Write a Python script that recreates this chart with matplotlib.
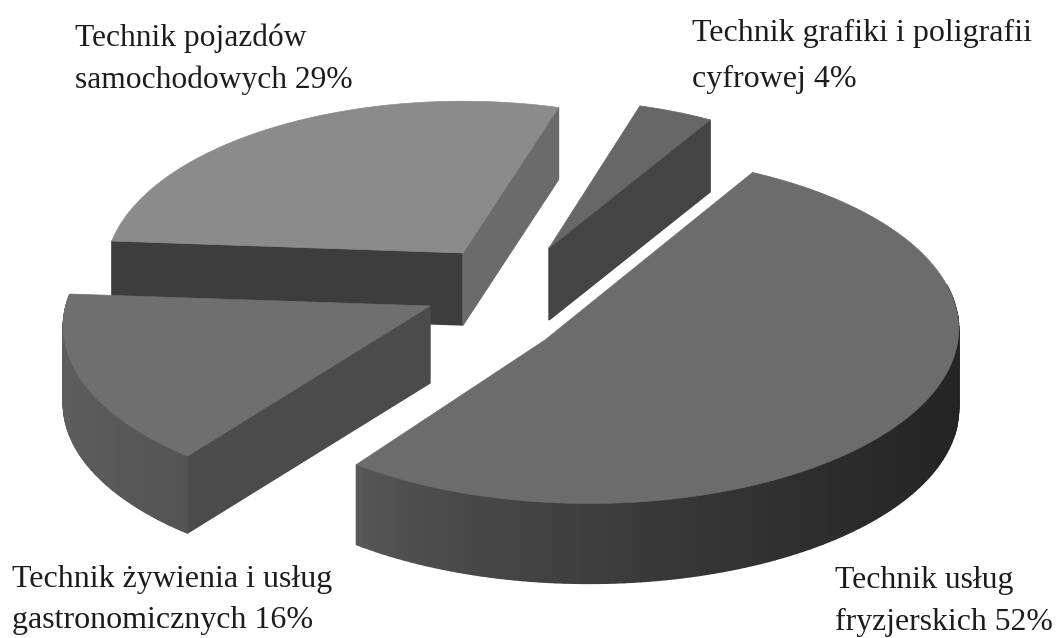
import numpy as np
import matplotlib
matplotlib.use('Agg')
from matplotlib import pyplot as plt

# udzialy zawodow, kolejnosc zgodnie z ruchem wskazowek od gory
labels = ["Technik usług\nfryzjerskich 52%",
          "Technik żywienia i usług\ngastronomicznych 16%",
          "Technik pojazdów\nsamochodowych 29%",
          "Technik grafiki i poligrafii\ncyfrowej 4%"]
shares = [52, 16, 29, 4]

# uklad w pikselach obrazka
apex_x = [589, 430, 463, 549]
apex_y = [308, 306, 253, 248]
notch_x = [545, 430, 463, 549]
notch_y = [340, 306, 253, 248]
radius_x = [367, 364, 355, 338]
radius_y = [172, 170, 170, 166]
depth = [80, 77, 72, 72]
twist = [2.2, 0, 0, 0]
label_x = [835, 12, 75, 692]
label_y = [588, 587, 46, 41]
line_gap = [42, 41, 42, 46]
font_size = [22.9, 23, 22.7, 23]

top_colors = ['#6c6c6c', '#6f6f6f', '#8b8b8b', '#676767']
near_cut = [None, '#4b4b4b', '#3d3d3d', None]
right_cut = [None, None, '#6b6b6b', '#444444']
side_light = ['#585858', '#5e5e5e', None, None]
side_dark = ['#242424', '#545454', None, None]

start_angle = 58.3
persp = 0.12


def rim(i, angles):
    t = np.radians(angles)
    u, v = np.cos(t), np.sin(t)
    s = 1 / (1 + persp * v)
    return apex_x[i] + radius_x[i] * u * s, apex_y[i] - radius_y[i] * v * s


def mix(c1, c2, f):
    a = np.array(matplotlib.colors.to_rgb(c1))
    b = np.array(matplotlib.colors.to_rgb(c2))
    return tuple(a + (b - a) * f)


def wall(ax, i, x0, y0, x1, y1, color):
    d = depth[i]
    ax.fill([x0, x1, x1, x0], [y0, y1, y1 + d, y0 + d], color=color, lw=1, zorder=zs[i])


fig = plt.figure(figsize=(10.58, 6.38), dpi=100)
ax = fig.add_axes([0, 0, 1, 1])
ax.set_xlim(0, 1058)
ax.set_ylim(638, 0)
ax.axis('off')

# katy wycinkow z udzialow
total = float(sum(shares))
spans = [s / total * 360 for s in shares]
zs = [5, 4, 2, 3]
ang = start_angle
for i in range(len(shares)):
    t_hi = ang + twist[i]
    t_lo = ang - spans[i] + twist[i]
    ang -= spans[i]
    arc_t = np.linspace(t_lo, t_hi, 160)
    rx, ry = rim(i, arc_t)

    # sciany po cieciach
    if near_cut[i]:
        xe, ye = rim(i, np.array([t_hi]))
        wall(ax, i, apex_x[i], apex_y[i], xe[0], ye[0], near_cut[i])
    if right_cut[i]:
        xe, ye = rim(i, np.array([t_lo]))
        wall(ax, i, apex_x[i], apex_y[i], xe[0], ye[0], right_cut[i])

    # zewnetrzna sciana, tylko tam gdzie widac
    if side_light[i]:
        for k in range(len(arc_t) - 1):
            if np.sin(np.radians(arc_t[k])) > 0.12:
                continue
            f = np.clip((rx[k] - rx.min()) / (rx.max() - rx.min()), 0, 1) ** 0.7
            wall(ax, i, rx[k], ry[k], rx[k + 1], ry[k + 1], mix(side_light[i], side_dark[i], f))

    ax.fill(np.r_[notch_x[i], rx], np.r_[notch_y[i], ry], color=top_colors[i], lw=0.5, zorder=zs[i] + 0.5)

    first, second = labels[i].split('\n')
    ax.text(label_x[i], label_y[i], first, family='Liberation Serif', fontsize=font_size[i],
            color='#1c1c1c', va='baseline', ha='left', zorder=10)
    ax.text(label_x[i], label_y[i] + line_gap[i], second, family='Liberation Serif', fontsize=font_size[i],
            color='#1c1c1c', va='baseline', ha='left', zorder=10)

plt.savefig('out.png', dpi=100)
